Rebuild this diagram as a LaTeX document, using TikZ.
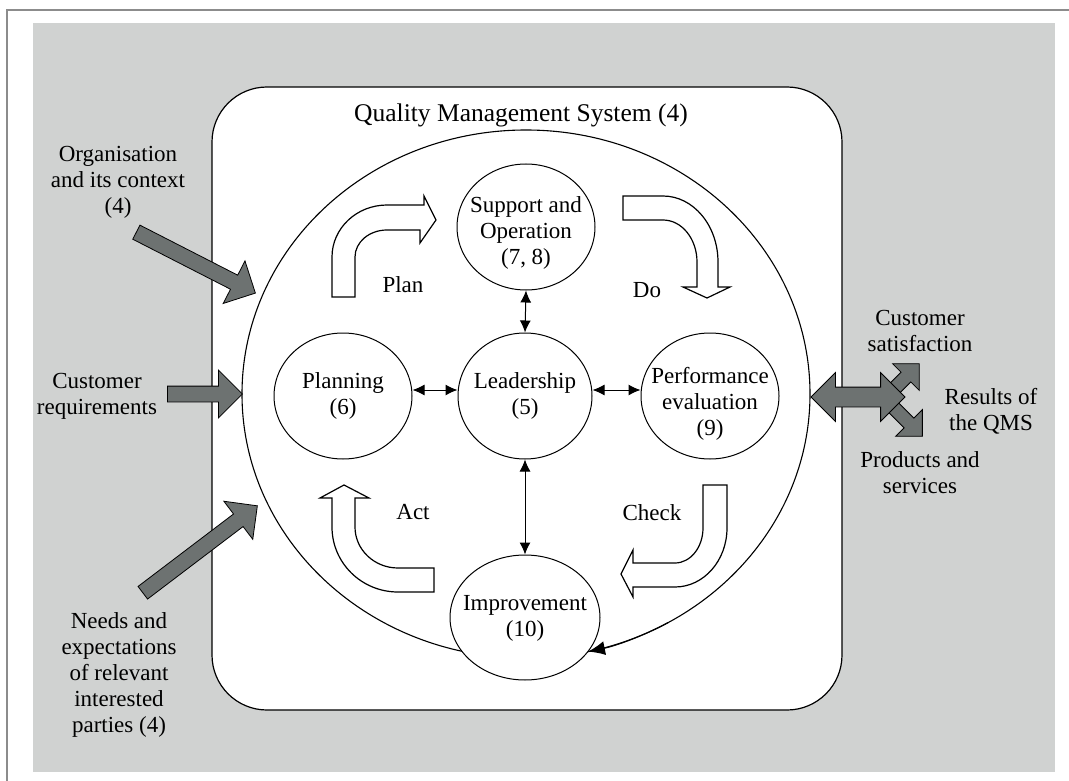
\documentclass[tikz,border=0pt]{standalone}
\usepackage{fontspec}
\setmainfont{Liberation Serif}
\usetikzlibrary{shapes.geometric,shapes.arrows,arrows.meta,calc}
\definecolor{bggray}{HTML}{D0D2D1}
\definecolor{arrowgray}{HTML}{6D7271}
\definecolor{framegray}{HTML}{8C8C8C}
\newcommand\myfs{\fontsize{23pt}{26pt}\selectfont}
\newcommand\mytitlefs{\fontsize{25.5pt}{30pt}\selectfont}
\tikzset{
  phase/.style={draw, ellipse, line width=1pt, fill=white, minimum width=138pt, minimum height=126pt, inner sep=0pt},
  txt/.style={align=center, font=\myfs, inner sep=0pt},
  biarrow/.style={line width=1pt, {Latex[length=12pt,width=11pt]}-{Latex[length=12pt,width=11pt]}},
  blockarrow/.style={draw, line width=1.2pt, fill=white, line join=miter},
  inarrow/.style={single arrow, draw=black, fill=arrowgray, line width=0.8pt, inner sep=7.5pt, minimum width=0pt, single arrow head extend=16pt, anchor=tail},
  outarrowstyle/.style={single arrow, draw=black, fill=arrowgray, line width=0.8pt, inner sep=6.5pt, minimum width=0pt, single arrow head extend=12pt, anchor=tail}
}
\begin{document}
\begin{tikzpicture}[x=1pt,y=-1pt]
\useasboundingbox (0,0) rectangle (1069,781);
% background and frame
\fill[bggray] (33,23) rectangle (1055,772);
\draw[framegray, line width=1.5pt] (7,781) -- (7,10) -- (1069,10);
% QMS box
\draw[line width=1.2pt, fill=white, rounded corners=55pt] (212,87) rectangle (842,710);
\node[font=\mytitlefs, inner sep=0pt] (title) at (521,115) {Quality Management System (4)};
% big cycle ellipse
\node[draw, ellipse, line width=1.1pt, minimum width=568pt, minimum height=528pt, inner sep=0pt] (qms) at (526,394) {};
% phases
\node[phase, minimum width=150pt, minimum height=125pt] (impr) at (525,617.5) {};
\coordinate (arcstart) at ({526+284*cos(60)},{394+264*sin(60)});
\draw[line width=1.1pt, -{Latex[length=17pt,width=14pt]}] (arcstart) arc[start angle=60, end angle=77.4, x radius=284, y radius=264];
\node[phase] (supp) at (526,227) {};
\node[phase] (plan) at (343,396) {};
\node[phase, minimum width=134pt] (lead) at (525,396) {};
\node[phase] (perf) at (710,396) {};
\node[txt] (supptxt) at (526,233) {Support and\\Operation\\(7, 8)};
\node[txt] (plantxt) at (343,396) {Planning\\(6)};
\node[txt] (leadtxt) at (525,396) {Leadership\\(5)};
\node[txt] (perftxt) at (710,404) {Performance\\evaluation\\(9)};
\node[txt] (imprtxt) at (525,618) {Improvement\\(10)};
% connectors
\draw[biarrow] (supp.south) -- (lead.north);
\draw[biarrow] ($(plan.east)+(0,-6)$) -- ($(lead.west)+(0,-6)$);
\draw[biarrow] ($(lead.east)+(0,-6)$) -- ($(perf.west)+(0,-6)$);
\draw[biarrow] (lead.south) -- (impr.north);
% PDCA block arrows
\draw[blockarrow] (332,297) -- (332,257) arc[start angle=180, end angle=270, x radius=55, y radius=52] -- (424,205) -- (424,196) -- (436,220) -- (420,243) -- (420,230) -- (387,230) arc[start angle=270, end angle=180, x radius=32, y radius=27] -- (355,297) -- cycle;
\draw[blockarrow] (623,196) -- (663,196) arc[start angle=-90, end angle=0, x radius=55, y radius=66] -- (718,287) -- (730,287) -- (707,298) -- (683,287) -- (697,287) -- (697,262) arc[start angle=0, end angle=-90, x radius=34, y radius=42] -- (623,220) -- cycle;
\draw[blockarrow] (703,485) -- (727,485) -- (727,528) arc[start angle=0, end angle=90, x radius=52, y radius=59] -- (633,587) -- (633,597) -- (621,574) -- (633,550) -- (633,563) -- (675,563) arc[start angle=90, end angle=0, x radius=28, y radius=35] -- cycle;
\draw[blockarrow] (434,568) -- (434,592) -- (398,592) arc[start angle=90, end angle=180, x radius=66, y radius=65] -- (332,498) -- (320,498) -- (344,485) -- (369,498) -- (355,498) -- (355,527) arc[start angle=180, end angle=90, x radius=43, y radius=41] -- cycle;
\node[txt] (planlbl) at (403,285) {Plan};
\node[txt] (dolbl) at (647,290) {Do};
\node[txt] (checklbl) at (652,513) {Check};
\node[txt] (actlbl) at (413,512) {Act};
% inputs
\node[inarrow, minimum height=133.7pt, rotate=-27.1] (orgarrow) at (136,232) {};
\node[inarrow, minimum height=75pt] (custarrow) at (167,394) {};
\node[inarrow, minimum height=143.8pt, rotate=37.2] (needsarrow) at (142.5,593) {};
\node[txt] (orgtxt) at (118,182) {Organisation\\and its context\\(4)};
\node[txt] (custtxt) at (97,396) {Customer\\requirements};
\node[txt] (needstxt) at (119,675) {Needs and\\expectations\\of relevant\\interested\\parties (4)};
% outputs
\node[outarrowstyle, minimum height=49.5pt, rotate=45] (satarrow) at (884,399) {};
\node[outarrowstyle, minimum height=51pt, rotate=-45] (prodarrow) at (886,400) {};
\node[double arrow, draw=black, fill=arrowgray, line width=0.8pt, inner sep=9.5pt, minimum width=0pt, double arrow head extend=14.5pt, minimum height=94pt] (outarrow) at (858,397) {};
\node[txt] (sattxt) at (920,331) {Customer\\satisfaction};
\node[txt] (restxt) at (991,411) {Results of\\the QMS};
\node[txt] (prodtxt) at (920,473) {Products and\\services};
\end{tikzpicture}
\end{document}
